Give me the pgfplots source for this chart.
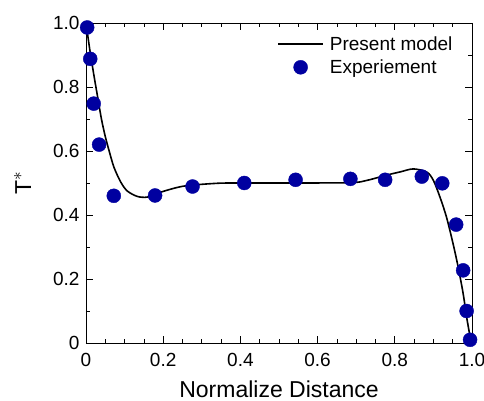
\documentclass[border=0pt]{standalone}
\usepackage{fontspec}
\setmainfont{Liberation Sans}
\usepackage{pgfplots}
\pgfplotsset{compat=1.18}
\definecolor{expblue}{RGB}{0,0,160}
\pgfplotsset{
  lineleg/.style={legend image code/.code={\draw[##1,line width=1.6pt] (0pt,0pt) -- (45pt,0pt);}},
  markleg/.style={legend image code/.code={\draw[##1] plot coordinates {(22.5pt,0pt)};}},
}

\begin{document}
\begin{tikzpicture}
\begin{axis}[
  scale only axis,
  width=386pt,height=320pt,
  xmin=0,xmax=1,ymin=0,ymax=1,
  xtick={0,0.2,0.4,0.6,0.8,1.0},
  xticklabels={0,0.2,0.4,0.6,0.8,1.0},
  ytick={0,0.2,0.4,0.6,0.8,1.0},
  yticklabels={0,0.2,0.4,0.6,0.8,1.0},
  minor x tick num=3,
  minor y tick num=1,
  tick align=inside,
  major tick length=7pt,
  minor tick length=4pt,
  every tick/.style={black,line width=0.8pt},
  axis line style={line width=0.9pt},
  tick label style={font=\fontsize{19}{21}\selectfont},
  xticklabel style={yshift=-7pt},
  yticklabel style={xshift=-3pt},
  xlabel={Normalize Distance},
  ylabel={T$^{*}$},
  label style={font=\fontsize{23}{25}\selectfont},
  xlabel style={yshift=-7pt},
  ylabel style={yshift=15pt},
  clip=false,
  legend style={draw=none,fill=none,at={(rel axis cs:0.955,0.965)},anchor=north east,
    font=\fontsize{19}{21}\selectfont,row sep=4pt,inner sep=0pt,
    /tikz/every odd column/.append style={column sep=4pt}},
  legend cell align=left,
]
% present model
\addplot[black,line width=1.6pt,smooth,lineleg] coordinates {
 (0,1.0) (0.01,0.915) (0.02,0.84) (0.03,0.77) (0.04,0.70) (0.05,0.645)
 (0.06,0.6) (0.0725,0.549) (0.09,0.503) (0.107,0.475) (0.133,0.458)
 (0.159,0.456) (0.19,0.47) (0.252,0.49) (0.339,0.499) (0.4,0.5)
 (0.511,0.5) (0.684,0.501) (0.727,0.508) (0.78,0.525) (0.815,0.535)
 (0.848,0.544) (0.883,0.534) (0.9,0.508) (0.917,0.456) (0.934,0.393)
 (0.951,0.31) (0.964,0.238) (0.977,0.155) (0.986,0.082) (0.995,0.02) (0.999,0)};
\addlegendentry{Present model}
% experiment
\addplot[only marks,mark=*,mark size=7pt,expblue,markleg] coordinates {
 (0.003,0.986) (0.011,0.888) (0.02,0.748) (0.034,0.62) (0.072,0.46) (0.179,0.461)
 (0.276,0.489) (0.41,0.50) (0.543,0.51) (0.685,0.513) (0.775,0.51) (0.87,0.52)
 (0.923,0.499) (0.959,0.37) (0.977,0.227) (0.986,0.10) (0.995,0.01)};
\addlegendentry{Experiement}
\end{axis}
\pgfresetboundingbox
\path[use as bounding box] ([shift={(-86pt,-58pt)}]current axis.south west) rectangle ([shift={(12pt,23pt)}]current axis.north east);
\end{tikzpicture}
\end{document}
